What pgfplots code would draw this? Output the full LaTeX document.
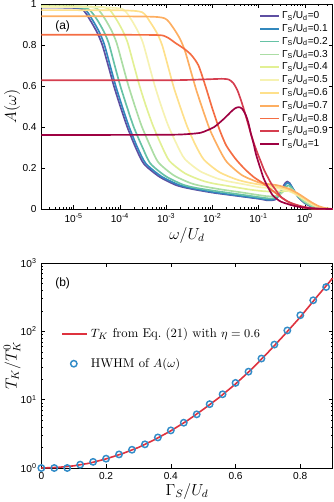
\documentclass[border=0pt]{standalone}
\usepackage{fontspec}
\newfontfamily\hv{Liberation Sans}
\usepackage{pgfplots}
\usepackage{pgfplotstable}
\pgfplotsset{compat=1.18}

\definecolor{g0}{HTML}{5E4FA2}
\definecolor{g1}{HTML}{3288BD}
\definecolor{g2}{HTML}{66C2A5}
\definecolor{g3}{HTML}{ABDDA4}
\definecolor{g4}{HTML}{E2F094}
\definecolor{g5}{HTML}{F6F2B2}
\definecolor{g6}{HTML}{FEE08B}
\definecolor{g7}{HTML}{FDAE61}
\definecolor{g8}{HTML}{F46D43}
\definecolor{g9}{HTML}{D53E4F}
\definecolor{g10}{HTML}{9E0142}
\definecolor{tkred}{RGB}{222,50,62}
\definecolor{hwblue}{RGB}{50,140,200}

% A(omega) curves, column lw = log10(omega/U_d)
\pgfplotstableread{
lw A
-5.70 0.983
-5.20 0.982
-4.82 0.975
-4.64 0.92
-4.49 0.86
-4.38 0.80
-4.24 0.69
-4.13 0.60
-3.99 0.50
-3.84 0.40
-3.66 0.30
-3.48 0.22
-3.15 0.158
-2.79 0.117
-2.50 0.10
-2.00 0.08
-1.50 0.065
-1.00 0.05
-0.80 0.042
-0.65 0.045
-0.55 0.07
-0.48 0.105
-0.42 0.128
-0.38 0.134
-0.33 0.127
-0.26 0.10
-0.15 0.06
0.00 0.028
0.17 0.009
0.35 0.002
0.60 0.0
}\gA
\pgfplotstableread{
lw A
-5.70 0.985
-5.20 0.984
-4.78 0.978
-4.60 0.925
-4.45 0.865
-4.34 0.805
-4.20 0.69
-4.09 0.60
-3.95 0.50
-3.80 0.40
-3.62 0.30
-3.44 0.222
-3.11 0.16
-2.75 0.12
-2.50 0.104
-2.00 0.083
-1.50 0.067
-1.00 0.052
-0.80 0.045
-0.65 0.048
-0.55 0.07
-0.47 0.10
-0.41 0.122
-0.37 0.128
-0.32 0.121
-0.25 0.097
-0.15 0.062
0.00 0.03
0.17 0.01
0.35 0.002
0.60 0.0
}\gB
\pgfplotstableread{
lw A
-5.70 0.986
-5.00 0.985
-4.68 0.975
-4.50 0.926
-4.35 0.867
-4.24 0.808
-4.10 0.69
-3.99 0.60
-3.85 0.50
-3.70 0.40
-3.52 0.305
-3.34 0.222
-3.01 0.16
-2.65 0.12
-2.40 0.105
-2.00 0.09
-1.50 0.074
-1.00 0.058
-0.80 0.052
-0.65 0.053
-0.55 0.068
-0.46 0.093
-0.40 0.11
-0.36 0.115
-0.31 0.11
-0.24 0.09
-0.15 0.062
0.00 0.032
0.17 0.012
0.35 0.003
0.60 0.0
}\gC
\pgfplotstableread{
lw A
-5.70 0.99
-4.90 0.988
-4.51 0.98
-4.33 0.93
-4.18 0.87
-4.07 0.81
-3.93 0.695
-3.82 0.605
-3.68 0.505
-3.53 0.405
-3.35 0.31
-3.17 0.228
-2.84 0.165
-2.48 0.127
-2.23 0.112
-1.80 0.095
-1.40 0.082
-1.00 0.068
-0.80 0.062
-0.65 0.062
-0.55 0.07
-0.45 0.088
-0.38 0.10
-0.33 0.101
-0.27 0.095
-0.18 0.075
-0.05 0.045
0.10 0.022
0.25 0.008
0.40 0.002
0.60 0.0
}\gD
\pgfplotstableread{
lw A
-5.70 0.99
-4.70 0.988
-4.27 0.98
-4.09 0.93
-3.94 0.87
-3.83 0.81
-3.69 0.695
-3.58 0.605
-3.44 0.505
-3.29 0.41
-3.11 0.315
-2.93 0.235
-2.60 0.175
-2.24 0.14
-1.99 0.125
-1.60 0.11
-1.20 0.095
-0.90 0.087
-0.70 0.085
-0.55 0.086
-0.45 0.088
-0.35 0.087
-0.25 0.08
-0.12 0.063
0.00 0.046
0.15 0.025
0.30 0.01
0.45 0.003
0.60 0.0
}\gE
\pgfplotstableread{
lw A
-5.70 0.985
-4.40 0.984
-3.94 0.975
-3.76 0.926
-3.61 0.867
-3.50 0.81
-3.36 0.695
-3.25 0.605
-3.11 0.505
-2.96 0.41
-2.78 0.32
-2.60 0.245
-2.27 0.185
-1.91 0.15
-1.66 0.135
-1.30 0.12
-1.00 0.107
-0.80 0.103
-0.65 0.102
-0.50 0.097
-0.35 0.088
-0.20 0.072
-0.05 0.052
0.10 0.03
0.25 0.013
0.40 0.004
0.60 0.0
}\gF
\pgfplotstableread{
lw A
-5.70 0.97
-4.00 0.969
-3.52 0.96
-3.34 0.91
-3.19 0.855
-3.08 0.795
-2.94 0.68
-2.83 0.59
-2.69 0.495
-2.54 0.40
-2.36 0.31
-2.18 0.24
-1.85 0.18
-1.49 0.145
-1.24 0.13
-1.00 0.12
-0.80 0.114
-0.65 0.11
-0.50 0.103
-0.35 0.092
-0.20 0.075
-0.05 0.055
0.10 0.033
0.25 0.015
0.40 0.005
0.60 0.0
}\gG
\pgfplotstableread{
lw A
-5.70 0.94
-3.50 0.939
-3.03 0.93
-2.85 0.885
-2.70 0.83
-2.59 0.77
-2.45 0.66
-2.34 0.575
-2.20 0.48
-2.05 0.385
-1.87 0.30
-1.69 0.23
-1.36 0.165
-1.00 0.13
-0.80 0.122
-0.60 0.116
-0.45 0.107
-0.30 0.094
-0.15 0.076
0.00 0.054
0.15 0.032
0.30 0.014
0.45 0.004
0.60 0.0
}\gH
\pgfplotstableread{
lw A
-5.70 0.85
-3.30 0.849
-3.00 0.84
-2.80 0.81
-2.60 0.78
-2.45 0.75
-2.30 0.70
-2.15 0.60
-2.00 0.49
-1.85 0.39
-1.70 0.31
-1.50 0.245
-1.30 0.195
-1.10 0.155
-0.90 0.125
-0.70 0.09
-0.50 0.055
-0.30 0.027
-0.10 0.01
0.10 0.002
0.60 0.0
}\gI
\pgfplotstableread{
lw A
-5.70 0.628
-3.00 0.628
-2.20 0.632
-1.80 0.635
-1.65 0.632
-1.55 0.615
-1.46 0.58
-1.38 0.53
-1.31 0.48
-1.24 0.425
-1.17 0.37
-1.10 0.32
-1.02 0.27
-0.95 0.23
-0.88 0.19
-0.80 0.155
-0.73 0.125
-0.62 0.09
-0.52 0.06
-0.38 0.038
-0.23 0.024
-0.05 0.012
0.10 0.006
0.30 0.002
0.60 0.0
}\gJ
\pgfplotstableread{
lw A
-5.70 0.361
-3.00 0.362
-2.50 0.366
-2.25 0.372
-2.10 0.385
-1.96 0.40
-1.85 0.42
-1.75 0.44
-1.65 0.462
-1.57 0.48
-1.50 0.492
-1.43 0.497
-1.36 0.49
-1.28 0.46
-1.22 0.42
-1.17 0.37
-1.11 0.32
-1.06 0.27
-1.00 0.225
-0.95 0.19
-0.90 0.155
-0.84 0.125
-0.77 0.095
-0.70 0.068
-0.60 0.048
-0.52 0.036
-0.38 0.025
-0.23 0.015
-0.05 0.008
0.10 0.004
0.30 0.001
0.60 0.0
}\gK

% T_K / T_K^0 versus Gamma_S/U_d
\pgfplotstableread{
g tk
0.00 1.0
0.05 1.02
0.10 1.075
0.15 1.18
0.20 1.36
0.25 1.62
0.30 2.0
0.35 2.6
0.40 3.5
0.45 4.9
0.50 7.2
0.55 10.8
0.60 17.0
0.65 28
0.70 49
0.75 88
0.80 162
0.85 315
0.90 600
}\tkline
\pgfplotstableread{
g tk
0.00 1.0
0.04 1.0
0.08 1.0
0.12 1.12
0.16 1.23
0.20 1.37
0.24 1.58
0.28 1.85
0.32 2.22
0.36 2.8
0.40 3.55
0.44 4.6
0.48 6.1
0.52 8.6
0.56 12
0.60 17.6
0.64 25.7
0.68 40
0.72 64
0.76 103
0.80 172
0.84 285
0.88 445
}\hwhm

\begin{document}
\begin{tikzpicture}
\pgfplotsset{
  every axis/.append style={
    scale only axis, width=218.5pt, height=153.75pt,
    tick label style={font=\hv\fontsize{7.6}{8}\selectfont},
    label style={font=\large},
    /pgf/number format/assume math mode=true,
    major tick length=3pt, minor tick length=1.6pt,
    axis line style={line width=0.5pt},
    every tick/.style={black, line width=0.4pt},
  },
  every axis plot/.append style={line width=1.25pt},
}
\begin{axis}[
  at={(0,0)}, anchor=north west,
  xmode=log, log basis x=10,
  xmin=2e-6, xmax=4, ymin=0, ymax=1,
  ytick={0,0.2,0.4,0.6,0.8,1},
  xticklabel={10\textsuperscript{\pgfmathprintnumber[fixed,precision=0]{\tick}}},
  xlabel={$\omega/U_d$}, ylabel={$A(\omega)$},
  xlabel style={at={(axis description cs:0.5,-0.127)}, anchor=center},
  ylabel style={at={(axis description cs:-0.1,0.5)}, anchor=center},
  legend cell align=left,
  legend style={draw=none, fill=none, at={(axis description cs:0.998,0.985)}, anchor=north east,
    font=\hv\fontsize{7.6}{8}\selectfont, row sep=-1.4pt, inner sep=1pt},
  legend image post style={xscale=0.8},
  every axis plot/.append style={smooth, tension=0.4},
]
\addplot[g0] table[x expr={10^(\thisrow{lw})}, y=A] {\gA};
\addlegendentry{Γ\textsubscript{S}/U\textsubscript{d}=0}
\addplot[g1] table[x expr={10^(\thisrow{lw})}, y=A] {\gB};
\addlegendentry{Γ\textsubscript{S}/U\textsubscript{d}=0.1}
\addplot[g2] table[x expr={10^(\thisrow{lw})}, y=A] {\gC};
\addlegendentry{Γ\textsubscript{S}/U\textsubscript{d}=0.2}
\addplot[g3] table[x expr={10^(\thisrow{lw})}, y=A] {\gD};
\addlegendentry{Γ\textsubscript{S}/U\textsubscript{d}=0.3}
\addplot[g4] table[x expr={10^(\thisrow{lw})}, y=A] {\gE};
\addlegendentry{Γ\textsubscript{S}/U\textsubscript{d}=0.4}
\addplot[g5] table[x expr={10^(\thisrow{lw})}, y=A] {\gF};
\addlegendentry{Γ\textsubscript{S}/U\textsubscript{d}=0.5}
\addplot[g6] table[x expr={10^(\thisrow{lw})}, y=A] {\gG};
\addlegendentry{Γ\textsubscript{S}/U\textsubscript{d}=0.6}
\addplot[g7] table[x expr={10^(\thisrow{lw})}, y=A] {\gH};
\addlegendentry{Γ\textsubscript{S}/U\textsubscript{d}=0.7}
\addplot[g8] table[x expr={10^(\thisrow{lw})}, y=A] {\gI};
\addlegendentry{Γ\textsubscript{S}/U\textsubscript{d}=0.8}
\addplot[g9] table[x expr={10^(\thisrow{lw})}, y=A] {\gJ};
\addlegendentry{Γ\textsubscript{S}/U\textsubscript{d}=0.9}
\addplot[g10] table[x expr={10^(\thisrow{lw})}, y=A] {\gK};
\addlegendentry{Γ\textsubscript{S}/U\textsubscript{d}=1}
\node[font=\hv\fontsize{9}{10}\selectfont] at (axis description cs:0.073,0.893) {(a)};
\end{axis}

\begin{axis}[
  at={(0,-194.25pt)}, anchor=north west,
  ymode=log, log basis y=10,
  xmin=0, xmax=0.9, ymin=1, ymax=1000,
  xtick={0,0.2,0.4,0.6,0.8},
  yticklabel={10\textsuperscript{\pgfmathprintnumber[fixed,precision=0]{\tick}}},
  clip=false,
  xlabel={$\Gamma_S/U_d$}, ylabel={$T_K/T_K^0$},
  xlabel style={at={(axis description cs:0.5,-0.114)}, anchor=center},
  ylabel style={at={(axis description cs:-0.1,0.5)}, anchor=center},
  legend cell align=left,
  legend style={draw=none, fill=none, at={(axis description cs:0.055,0.71)}, anchor=north west,
    font=\fontsize{9.5}{11}\selectfont, row sep=10pt},
]
\addplot[tkred, line width=1.2pt, legend image post style={xscale=1.1}] table[x=g, y=tk] {\tkline};
\addlegendentry{$T_K$ from Eq.\ (21) with $\eta=0.6$}
\addplot[only marks, mark=o, hwblue, mark size=2.4pt, line width=1.1pt] table[x=g, y=tk] {\hwhm};
\addlegendentry{HWHM of $A(\omega)$}
\node[font=\hv\fontsize{9}{10}\selectfont] at (axis description cs:0.073,0.902) {(b)};
\end{axis}
\pgfresetboundingbox
\path[use as bounding box] (-31pt,3pt) rectangle (218.8pt,-373.5pt);
\end{tikzpicture}
\end{document}
